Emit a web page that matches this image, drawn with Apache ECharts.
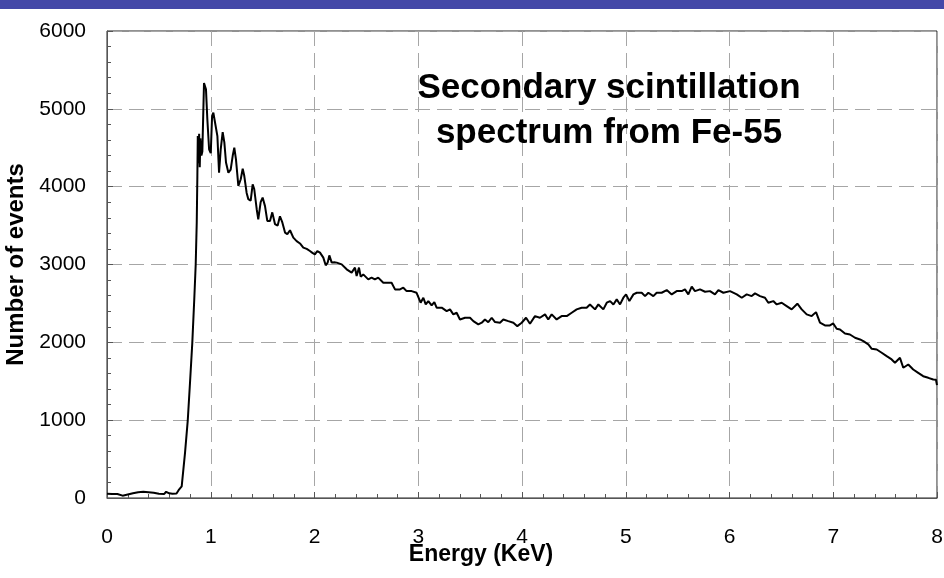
<!DOCTYPE html>
<html>
<head>
<meta charset="utf-8">
<script src="https://cdn.jsdelivr.net/npm/echarts@6/dist/echarts.min.js"></script>
<style>
html,body{margin:0;padding:0;background:#fff;}
#chart{width:944px;height:578px;}
</style>
</head>
<body>
<div id="chart"></div>
<script>
// Energy (KeV) values along the spectrum
const energy = [
0,0.05,0.1,0.15,0.2,0.25,0.3,0.35,0.4,0.45,0.5,0.55,0.57,0.6,0.63,0.67,0.69,
0.72,0.752,0.778,0.8,0.822,0.841,0.855,0.865,0.871,0.875,0.882,0.888,0.894,0.9,0.91,0.919,
0.935,0.954,0.967,0.984,1.0,1.013,1.025,1.044,1.064,1.08,1.096,1.115,1.131,1.147,1.17,1.192,
1.212,1.227,1.243,1.266,1.289,1.308,1.323,1.346,1.362,1.385,1.404,1.419,1.443,1.458,1.481,1.5,
1.523,1.545,1.571,1.593,1.619,1.645,1.667,1.69,1.716,1.738,1.764,1.796,1.828,1.86,1.892,1.925,
1.956,1.98,2.004,2.027,2.053,2.085,2.108,2.127,2.143,2.166,2.19,2.214,2.262,2.31,2.358,2.39,
2.406,2.429,2.445,2.47,2.518,2.55,2.582,2.614,2.663,2.711,2.743,2.776,2.824,2.856,2.888,2.936,
2.984,3.023,3.049,3.072,3.097,3.129,3.155,3.177,3.226,3.274,3.306,3.338,3.37,3.402,3.451,3.499,
3.531,3.579,3.612,3.643,3.675,3.708,3.74,3.788,3.82,3.868,3.917,3.955,3.997,4.039,4.077,4.125,
4.173,4.222,4.253,4.286,4.334,4.382,4.431,4.479,4.527,4.575,4.623,4.655,4.704,4.736,4.784,4.817,
4.849,4.881,4.913,4.945,4.977,5.003,5.035,5.074,5.106,5.154,5.186,5.218,5.266,5.298,5.346,5.395,
5.443,5.491,5.539,5.571,5.603,5.636,5.667,5.716,5.764,5.812,5.86,5.893,5.941,6.005,6.07,6.118,
6.166,6.214,6.246,6.294,6.342,6.374,6.422,6.455,6.503,6.551,6.599,6.654,6.696,6.744,6.792,6.834,
6.872,6.92,6.968,7.0,7.033,7.065,7.113,7.161,7.21,7.258,7.29,7.338,7.371,7.419,7.467,7.515,
7.563,7.595,7.643,7.675,7.723,7.771,7.819,7.867,7.916,7.964,7.99,8.0
];
// Number of events at each energy
const events = [
55,50,52,30,45,60,75,80,75,68,55,50,80,60,55,58,100,
150,580,990,1480,1990,2550,3000,3540,4140,4650,4300,4680,4250,4620,4400,4450,
5330,5250,4870,4480,4430,4910,4950,4930,4650,4180,4480,4700,4570,4310,4180,4220,
4400,4500,4350,4010,4095,4230,4140,3920,3840,3820,4030,3970,3710,3580,3800,3860,
3750,3560,3560,3670,3520,3500,3620,3540,3410,3390,3440,3345,3300,3270,3217,3200,
3173,3150,3130,3173,3152,3088,2990,3024,3117,3024,3030,3024,3002,2938,2895,2960,
2852,2960,2844,2873,2809,2831,2809,2831,2766,2766,2766,2680,2680,2702,2658,2658,
2637,2509,2573,2487,2530,2474,2517,2445,2445,2401,2423,2359,2380,2294,2316,2316,
2273,2230,2252,2294,2259,2316,2260,2252,2294,2273,2252,2208,2252,2316,2239,2337,
2316,2359,2294,2359,2294,2337,2337,2380,2423,2445,2445,2487,2423,2487,2423,2509,
2530,2487,2552,2487,2573,2616,2530,2616,2637,2637,2594,2637,2594,2637,2637,2671,
2616,2658,2658,2680,2616,2715,2658,2680,2650,2658,2616,2671,2637,2658,2616,2573,
2616,2594,2629,2594,2573,2509,2530,2487,2509,2466,2423,2496,2423,2359,2337,2388,
2252,2217,2217,2243,2174,2166,2114,2101,2059,2037,2015,1973,1917,1908,1866,1822,
1780,1737,1801,1673,1715,1651,1608,1565,1544,1522,1520,1450
];
const xTicks = [0,1,2,3,4,5,6,7,8];
const yTicks = [0,1000,2000,3000,4000,5000,6000];
const titleLines = ['Secondary scintillation', 'spectrum from Fe-55'];
const xName = 'Energy (KeV)';
const yName = 'Number of events';

const chart = echarts.init(document.getElementById('chart'), null, {renderer: 'canvas'});
const FONT = '"Liberation Sans", Arial, sans-serif';
const dash = {color: '#a6a6a6', width: 1, type: [15, 7]};
const pairs = energy.map((e, i) => [e, events[i]]);

chart.setOption({
  animation: false,
  backgroundColor: '#fff',
  grid: {left: 107, right: 7, top: 31, bottom: 80, outerBoundsMode: 'none', containLabel: false,
         show: true, borderColor: '#222', borderWidth: 1, backgroundColor: 'transparent'},
  graphic: [
    {type: 'rect', x: 0, y: 0, shape: {x: 0, y: 0, width: 944, height: 9}, style: {fill: '#4448a8'}, z: 10},
    {type: 'text', x: 609, y: 66, z: 10,
     style: {text: titleLines.join('\n'), textAlign: 'center', textVerticalAlign: 'top', fill: '#000',
             font: 'bold 35px ' + FONT, lineHeight: 45}},
    {type: 'text', x: 481, y: 543, z: 10,
     style: {text: xName, textAlign: 'center', textVerticalAlign: 'top', fill: '#000',
             font: 'bold 23px ' + FONT}}
  ],
  xAxis: {
    type: 'value', min: xTicks[0], max: xTicks[xTicks.length - 1], interval: 1,
    axisLine: {show: true, onZero: false, lineStyle: {color: '#555', width: 1}},
    axisTick: {show: true, inside: true, length: 6, lineStyle: {color: '#555'}},
    minorTick: {show: true, splitNumber: 5, length: 4, lineStyle: {color: '#555'}},
    axisLabel: {margin: 29, fontFamily: FONT, fontSize: 21, color: '#000', formatter: v => String(v)},
    splitLine: {show: true, lineStyle: dash}
  },
  yAxis: {
    type: 'value', min: yTicks[0], max: yTicks[yTicks.length - 1], interval: 1000,
    name: yName, nameLocation: 'middle', nameGap: 72, nameRotate: 90,
    nameTextStyle: {fontFamily: FONT, fontWeight: 'bold', fontSize: 24, color: '#000'},
    axisLine: {show: true, lineStyle: {color: '#555', width: 1}},
    axisTick: {show: true, inside: true, length: 6, lineStyle: {color: '#555'}},
    minorTick: {show: true, splitNumber: 5, length: 4, lineStyle: {color: '#555'}},
    axisLabel: {margin: 21, fontFamily: FONT, fontSize: 21, color: '#000', formatter: v => String(v)},
    splitLine: {show: true, lineStyle: dash}
  },
  series: [{
    type: 'line', data: pairs, showSymbol: false, symbol: 'none',
    lineStyle: {color: '#000', width: 2}, z: 5
  }]
});
</script>
</body>
</html>
